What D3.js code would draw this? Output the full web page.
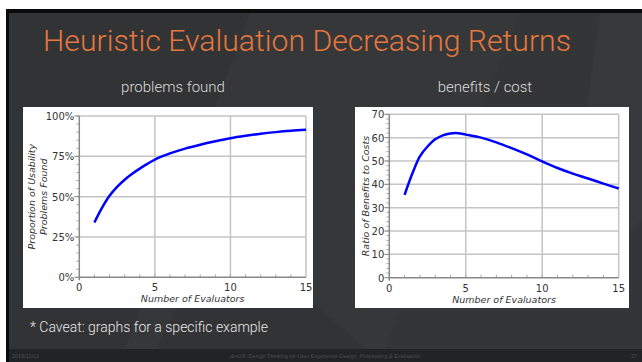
<!DOCTYPE html>
<html><head><meta charset="utf-8">
<script src="https://cdn.jsdelivr.net/npm/d3@7"></script>
<style>html,body{margin:0;padding:0;background:#fff;overflow:hidden}</style>
</head><body>
<svg id="c" width="642" height="362"></svg>
<script>
// ---- data ----
const slideTitle = "Heuristic Evaluation Decreasing Returns";
const leftSubtitle = "problems found";
const rightSubtitle = "benefits / cost";
const caveat = "* Caveat: graphs for a specific example";
const footerDate = "2018/11/12";
const footerCourse = "dt+UX: Design Thinking for User Experience Design, Prototyping & Evaluation";
const footerPage = "27";

const evaluators   = [1, 1.5, 2, 2.5, 3, 3.5, 4, 4.5, 5, 6, 7, 8, 9, 10, 11, 12, 13, 14, 15];
const problemsFound = [34, 43, 50.5, 56, 60.5, 64.2, 67.4, 70.3, 73, 76.8, 79.8, 82.2, 84.3, 86.2, 87.7, 89, 90, 90.8, 91.4];
const benefitCost   = [35.5, 44.5, 52, 56.2, 59.3, 61, 61.8, 61.9, 61.3, 60, 58, 55.5, 52.8, 49.8, 47, 44.6, 42.5, 40.3, 38.2];

const xTicks = [0, 5, 10, 15];
const leftYTicks = [0, 25, 50, 75, 100];
const rightYTicks = [0, 10, 20, 30, 40, 50, 60, 70];
const xTitle = "Number of Evaluators";
const leftYTitle = ["Proportion of Usability", "Problems Found"];
const rightYTitle = "Ratio of Benefits to Costs";

// ---- drawing ----
const svg = d3.select("#c");

// slide frame
svg.append("rect").attr("x", 6).attr("y", 9).attr("width", 636).attr("height", 353).attr("fill", "#0a0a0a");
svg.append("rect").attr("x", 9).attr("y", 13).attr("width", 640).attr("height", 360).attr("rx", 4).attr("fill", "#333536");
// subtle background facets
const facets = [
  {pts: [[9,13],[250,13],[120,362],[9,362]], c: "#313334"},
  {pts: [[250,13],[520,13],[380,362],[120,362]], c: "#353738"},
  {pts: [[600,13],[642,13],[642,220],[560,300]], c: "#38393a"},
  {pts: [[220,220],[380,362],[150,362]], c: "#313334"}
];
svg.selectAll("polygon.f").data(facets).join("polygon").attr("class","f")
  .attr("points", d => d.pts.map(p => p.join(",")).join(" ")).attr("fill", d => d.c);

// footer
svg.append("rect").attr("x", 9).attr("y", 349).attr("width", 633).attr("height", 13).attr("fill", "#222324");
const foot = svg.append("g").attr("font-family", "Liberation Sans, Arial, sans-serif").attr("font-size", 5.5).attr("fill", "#4c4e50");
foot.append("text").attr("x", 12).attr("y", 358).text(footerDate);
foot.append("text").attr("x", 325).attr("y", 358).attr("text-anchor", "middle").text(footerCourse);
foot.append("text").attr("x", 637).attr("y", 358).attr("text-anchor", "end").text(footerPage);

// title
svg.append("text").attr("x", 43).attr("y", 51).attr("font-family", "Roboto, Liberation Sans, sans-serif")
  .attr("font-weight", 300).attr("font-size", 30).attr("fill", "#e5773f")
  .attr("textLength", 528).attr("lengthAdjust", "spacingAndGlyphs").text(slideTitle);

const sub = svg.append("g").attr("font-family", "Roboto, Liberation Sans, sans-serif").attr("font-weight", 300)
  .attr("font-size", 15).attr("fill", "#dcdcdc").attr("text-anchor", "middle");
sub.append("text").attr("x", 173).attr("y", 92).text(leftSubtitle);
sub.append("text").attr("x", 485).attr("y", 92).text(rightSubtitle);

svg.append("text").attr("x", 30).attr("y", 332).attr("font-family", "Roboto, Liberation Sans, sans-serif")
  .attr("font-weight", 300).attr("font-size", 14).attr("fill", "#e8e8e8")
  .attr("textLength", 238).attr("lengthAdjust", "spacingAndGlyphs").text(caveat);

function chart(opts) {
  const g = svg.append("g");
  g.append("rect").attr("x", opts.panel[0]).attr("y", opts.panel[1]).attr("width", opts.panel[2]).attr("height", opts.panel[3]).attr("fill", "#fff");
  const x = d3.scaleLinear().domain([0, 15]).range(opts.xr);
  const y = d3.scaleLinear().domain(opts.yd).range(opts.yr);
  // grid
  g.selectAll("line.gx").data(xTicks.filter(t => t > 0)).join("line")
    .attr("x1", d => x(d)).attr("x2", d => x(d)).attr("y1", opts.yr[0]).attr("y2", opts.yr[1])
    .attr("stroke", "#c4c4c4").attr("stroke-width", 1.5);
  g.selectAll("line.gy").data(opts.yTicks.filter(t => t > 0)).join("line")
    .attr("x1", opts.xr[0]).attr("x2", opts.xr[1]).attr("y1", d => y(d)).attr("y2", d => y(d))
    .attr("stroke", "#c4c4c4").attr("stroke-width", 1.5);
  // minor ticks
  g.selectAll("line.mx").data(d3.range(1, 15)).join("line")
    .attr("x1", d => x(d)).attr("x2", d => x(d)).attr("y1", opts.yr[0]).attr("y2", opts.yr[0] - 3)
    .attr("stroke", "#aaa").attr("stroke-width", 1);
  g.selectAll("line.my").data(d3.range(opts.yd[0], opts.yd[1] + 0.01, opts.minor)).join("line")
    .attr("x1", opts.xr[0] - 3).attr("x2", opts.xr[0]).attr("y1", d => y(d)).attr("y2", d => y(d))
    .attr("stroke", "#aaa").attr("stroke-width", 1);
  g.selectAll("line.My").data(opts.yTicks).join("line")
    .attr("x1", opts.xr[0] - 5).attr("x2", opts.xr[0]).attr("y1", d => y(d)).attr("y2", d => y(d))
    .attr("stroke", "#888").attr("stroke-width", 1);
  // axes lines
  g.append("line").attr("x1", opts.xr[0]).attr("x2", opts.xr[0]).attr("y1", opts.yr[0] + 3).attr("y2", opts.yr[1])
    .attr("stroke", "#888").attr("stroke-width", 1.5);
  g.append("line").attr("x1", opts.xr[0]).attr("x2", opts.xr[1]).attr("y1", opts.yr[0]).attr("y2", opts.yr[0])
    .attr("stroke", "#888").attr("stroke-width", 1.5);
  const tf = g.append("g").attr("font-family", "DejaVu Sans, Verdana, sans-serif").attr("font-size", 10).attr("fill", "#333");
  tf.selectAll("text.xt").data(xTicks).join("text").attr("x", d => x(d)).attr("y", opts.yr[0] + 14)
    .attr("text-anchor", "middle").text(d => d);
  tf.selectAll("text.yt").data(opts.yTicks).join("text").attr("x", opts.xr[0] - 5).attr("y", d => y(d) + 4)
    .attr("text-anchor", "end").text(opts.yfmt);
  tf.append("text").attr("x", (opts.xr[0] + opts.xr[1]) / 2).attr("y", opts.yr[0] + 25).attr("text-anchor", "middle")
    .attr("font-style", "italic").attr("font-size", 9.5).text(xTitle);
  const cy = (opts.yr[0] + opts.yr[1]) / 2;
  opts.yTitle.forEach((t, i) => {
    tf.append("text").attr("transform", `translate(${opts.yTitleX[i]},${cy}) rotate(-90)`)
      .attr("text-anchor", "middle").attr("font-style", "italic").attr("font-size", 9.5).text(t);
  });
  const line = d3.line().x(d => x(d[0])).y(d => y(d[1])).curve(d3.curveCatmullRom.alpha(0.5));
  g.append("path").datum(evaluators.map((e, i) => [e, opts.values[i]])).attr("d", line)
    .attr("fill", "none").attr("stroke", "#0000ff").attr("stroke-width", 2.5).attr("stroke-linejoin", "round");
}

chart({panel: [23, 107, 290, 201], xr: [79.3, 306], yd: [0, 100], yr: [277.3, 116], yTicks: leftYTicks,
  minor: 5, yfmt: d => d + "%", yTitle: leftYTitle, yTitleX: [35, 47], values: problemsFound});
chart({panel: [355, 107, 274, 201], xr: [389.3, 618.7], yd: [0, 70], yr: [277.7, 114.3], yTicks: rightYTicks,
  minor: 2, yfmt: d => d, yTitle: [rightYTitle], yTitleX: [369], values: benefitCost});
</script>
</body></html>
